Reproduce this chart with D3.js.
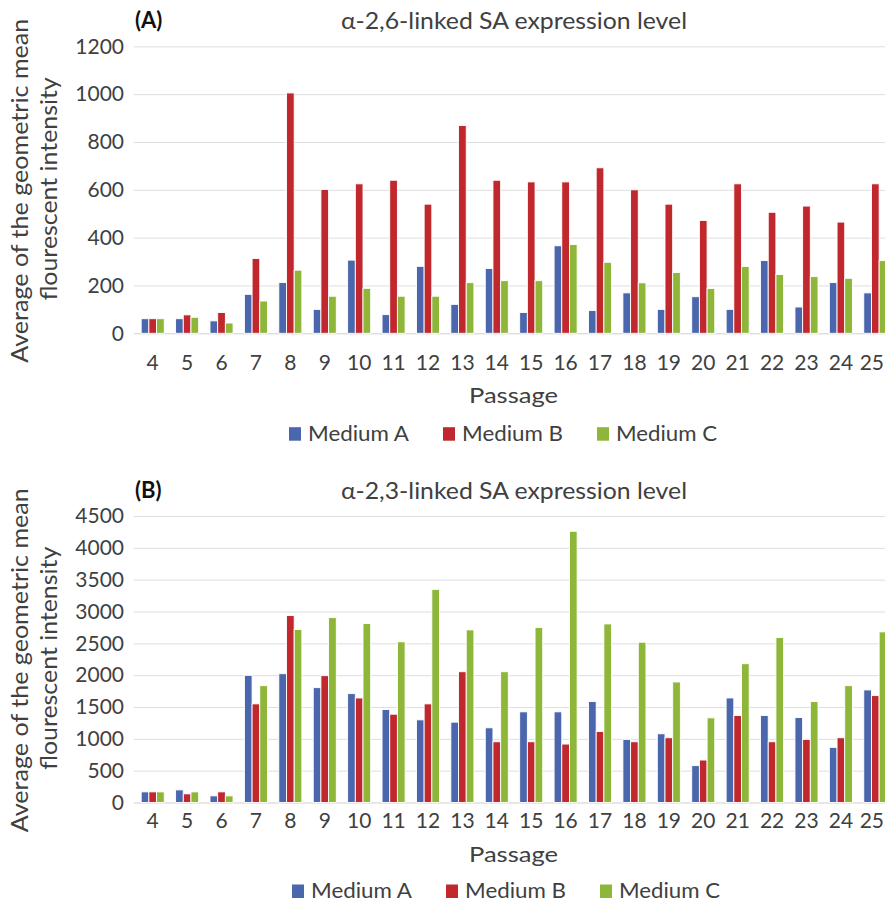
<!DOCTYPE html>
<html>
<head>
<meta charset="utf-8">
<script src="https://cdn.jsdelivr.net/npm/d3@7"></script>
<style>
  body { margin: 0; background: #fff; }
  svg { display: block; font-family: Lato, "Open Sans", sans-serif; }
</style>
</head>
<body>
<svg id="chart" width="885" height="903"></svg>
<script>
// passages on the x axis
let passages = ["4","5","6","7","8","9","10","11","12","13","14","15","16","17","18","19","20","21","22","23","24","25"];
let mediums = ["Medium A","Medium B","Medium C"];

// (A) alpha-2,6-linked SA
let sa26MediumA = [61,61,52,163,212,100,306,78,280,121,271,87,366,95,169,100,153,100,304,110,212,169];
let sa26MediumB = [61,77,87,313,1005,601,625,640,540,869,640,633,633,692,600,540,472,625,506,532,465,625];
let sa26MediumC = [61,67,43,135,264,155,188,155,155,212,220,220,371,297,211,254,187,279,246,237,230,304];
let ticks26 = [0,200,400,600,800,1000,1200];

// (B) alpha-2,3-linked SA
let sa23MediumA = [167,198,104,1997,2023,1804,1710,1460,1298,1262,1173,1424,1424,1585,991,1079,579,1642,1366,1335,866,1768];
let sa23MediumB = [167,136,167,1549,2936,1992,1642,1387,1549,2054,954,954,918,1116,954,1017,667,1366,954,991,1017,1679];
let sa23MediumC = [167,167,104,1835,2717,2904,2810,2524,3348,2711,2054,2748,4260,2805,2518,1893,1330,2180,2592,1585,1835,2680];
let ticks23 = [0,500,1000,1500,2000,2500,3000,3500,4000,4500];

let colors = ["#4a66ac","#c1282e","#8eb73a"];
let textColor = "#404040";

let svg = d3.select("#chart");

function panel(cfg){
  let x0 = d3.scaleBand().domain(passages)
    .range([135.5, 892.5]).paddingInner(0.33).paddingOuter(0.165);
  let x1 = d3.scaleBand().domain(mediums).range([0, x0.bandwidth()]);
  let y = d3.scaleLinear().domain([0, cfg.max]).range([cfg.bottom, cfg.top]);

  let g = svg.append("g");

  // gridlines + y tick labels
  let yAxis = g.append("g")
    .attr("transform","translate(134,0)")
    .call(d3.axisLeft(y).tickValues(cfg.ticks).tickFormat(d3.format("d")).tickSize(-760).tickPadding(10));
  yAxis.select(".domain").remove();
  yAxis.selectAll("line").attr("stroke","#dedede");
  yAxis.selectAll("text").attr("fill",textColor).attr("font-size",21).attr("font-family","Lato");
  yAxis.selectAll(".tick").filter(d => d == 0).select("line").attr("stroke","#cfcfcf");

  // bars
  let rows = passages.map((p,i) => ({p: p, vals: cfg.series.map((s,j) => ({m: mediums[j], v: s[i]}))}));
  let grp = g.selectAll(".grp").data(rows).enter().append("g")
    .attr("transform", d => "translate(" + x0(d.p) + ",0)");
  grp.selectAll("rect").data(d => d.vals).enter().append("rect")
    .attr("x", d => x1(d.m))
    .attr("width", x1.bandwidth())
    .attr("y", d => y(d.v))
    .attr("height", d => cfg.bottom - y(d.v))
    .attr("fill", (d,i) => colors[i])
    .attr("stroke","#fff").attr("stroke-width",0.9);

  // x labels
  let xAxis = g.append("g")
    .attr("transform","translate(0," + cfg.bottom + ")")
    .call(d3.axisBottom(x0).tickSize(0).tickPadding(cfg.labelPad));
  xAxis.select(".domain").remove();
  xAxis.selectAll("text").attr("fill",textColor).attr("font-size",21).attr("font-family","Lato");
  // last label runs off the right edge, keep it inside
  xAxis.selectAll(".tick").filter(d => d == "25").select("text")
    .attr("text-anchor","end").attr("x", 884 - x0("25") - x0.bandwidth()/2);

  // panel letter and title
  g.append("text").attr("x",135).attr("y",cfg.top - 18)
    .attr("font-weight","bold").attr("font-size",22).attr("fill","#111")
    .text(cfg.letter);
  g.append("text").attr("x",514).attr("y",cfg.top - 17)
    .attr("text-anchor","middle").attr("font-size",24).attr("fill",textColor)
    .attr("textLength",346).attr("lengthAdjust","spacingAndGlyphs")
    .text(cfg.title);

  // y title (two lines)
  let mid = (cfg.top + cfg.bottom)/2;
  g.append("text").attr("transform","translate(28," + (mid+1) + ") rotate(-90)")
    .attr("text-anchor","middle").attr("font-size",24).attr("fill",textColor)
    .attr("textLength",344).attr("lengthAdjust","spacingAndGlyphs")
    .text("Average of the geometric mean");
  g.append("text").attr("transform","translate(57," + (mid-1) + ") rotate(-90)")
    .attr("text-anchor","middle").attr("font-size",24).attr("fill",textColor)
    .attr("textLength",223).attr("lengthAdjust","spacingAndGlyphs")
    .text("flourescent intensity");

  // x title
  g.append("text").attr("x",513.5).attr("y",cfg.bottom + cfg.passagePad)
    .attr("text-anchor","middle").attr("font-size",22).attr("fill",textColor)
    .attr("textLength",89).attr("lengthAdjust","spacingAndGlyphs")
    .text("Passage");

  // legend
  let leg = g.selectAll(".leg").data(mediums).enter().append("g")
    .attr("transform",(d,i) => "translate(" + (cfg.legendX + i*154) + "," + (cfg.bottom + cfg.legendPad) + ")");
  leg.append("rect").attr("x",0).attr("y",-13.5).attr("width",12).attr("height",13.5)
    .attr("fill",(d,i) => colors[i]);
  leg.append("text").attr("x",19).attr("y",0)
    .attr("font-size",22).attr("fill",textColor)
    .attr("textLength",101).attr("lengthAdjust","spacingAndGlyphs")
    .text(d => d);
}

panel({
  letter: "(A)", title: "α-2,6-linked SA expression level",
  max: 1200, ticks: ticks26, top: 46.3, bottom: 333.3,
  series: [sa26MediumA, sa26MediumB, sa26MediumC],
  labelPad: 22, passagePad: 69.4, legendPad: 107.4, legendX: 289
});

panel({
  letter: "(B)", title: "α-2,3-linked SA expression level",
  max: 4500, ticks: ticks23, top: 516, bottom: 802.5,
  series: [sa23MediumA, sa23MediumB, sa23MediumC],
  labelPad: 11, passagePad: 59.2, legendPad: 95.5, legendX: 292
});
</script>
</body>
</html>
